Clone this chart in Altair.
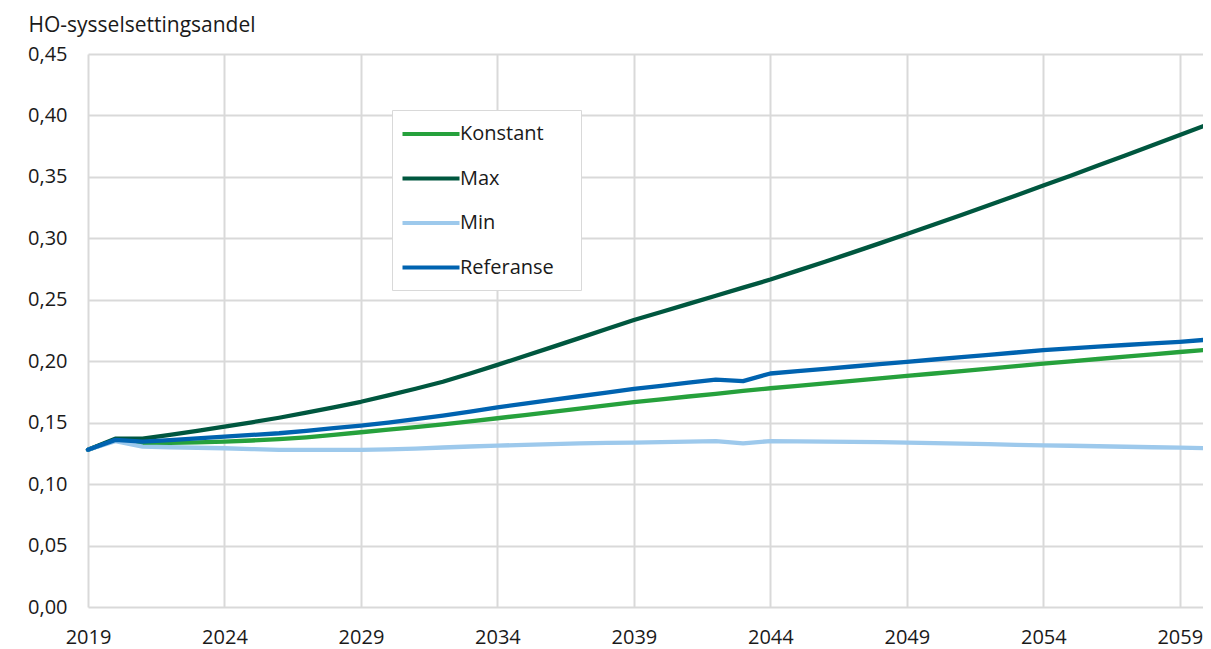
import altair as alt
import pandas as pd

years = list(range(2019, 2061))

konstant = [0.128, 0.136, 0.1330, 0.1335, 0.1340, 0.1346, 0.1355, 0.1366, 0.1381, 0.1400,
            0.1422, 0.1443, 0.1464, 0.1487, 0.1511, 0.1536, 0.1562, 0.1588, 0.1614, 0.1641,
            0.1667, 0.1690, 0.1713, 0.1735, 0.1758, 0.1780, 0.1800, 0.1820, 0.1840, 0.1860,
            0.1880, 0.1900, 0.1920, 0.1940, 0.1960, 0.1980, 0.1999, 0.2018, 0.2037, 0.2056,
            0.2075, 0.2093]

maks = [0.128, 0.137, 0.137, 0.1400, 0.1433, 0.1468, 0.1503, 0.1540, 0.1581, 0.1624,
        0.1670, 0.1722, 0.1776, 0.1833, 0.1900, 0.1970, 0.2043, 0.2115, 0.2188, 0.2262,
        0.2335, 0.2401, 0.2467, 0.2533, 0.2599, 0.2665, 0.2737, 0.2810, 0.2884, 0.2959,
        0.3035, 0.3112, 0.3190, 0.3269, 0.3349, 0.3430, 0.3510, 0.3592, 0.3674, 0.3757,
        0.3840, 0.3925]

minimum = [0.128, 0.135, 0.1305, 0.1300, 0.1296, 0.1292, 0.1285, 0.1279, 0.1278, 0.1278,
           0.1279, 0.1283, 0.1289, 0.1298, 0.1306, 0.1313, 0.1320, 0.1326, 0.1331, 0.1335,
           0.1338, 0.1342, 0.1346, 0.1350, 0.1332, 0.1350, 0.1348, 0.1346, 0.1343, 0.1341,
           0.1338, 0.1334, 0.1330, 0.1325, 0.1320, 0.1316, 0.1312, 0.1308, 0.1304, 0.1300,
           0.1297, 0.1292]

referanse = [0.128, 0.136, 0.1345, 0.1358, 0.1372, 0.1386, 0.1400, 0.1414, 0.1434, 0.1455,
             0.1476, 0.1500, 0.1528, 0.1558, 0.1590, 0.1625, 0.1655, 0.1685, 0.1715, 0.1745,
             0.1775, 0.1800, 0.1825, 0.1850, 0.1838, 0.1900, 0.1920, 0.1938, 0.1957, 0.1976,
             0.1995, 0.2014, 0.2033, 0.2052, 0.2071, 0.2090, 0.2104, 0.2118, 0.2132, 0.2145,
             0.2158, 0.2175]

series_names = ["Konstant", "Max", "Min", "Referanse"]
series_colors = ["#26a13c", "#00573f", "#9dc9ec", "#0063b0"]
x_ticks = [2019, 2024, 2029, 2034, 2039, 2044, 2049, 2054, 2059]
y_ticks = [0.0, 0.05, 0.10, 0.15, 0.20, 0.25, 0.30, 0.35, 0.40, 0.45]

rows = []
for name, vals in zip(series_names, [konstant, maks, minimum, referanse]):
    for yr, v in zip(years, vals):
        rows.append({"år": yr, "verdi": v, "serie": name, "orden": series_names.index(name)})
df = pd.DataFrame(rows)

FONT = "Open Sans"
PAD = "\u2800"

chart = alt.Chart(df).mark_line(strokeWidth=4.3, strokeJoin="round", strokeCap="round").encode(
    x=alt.X("år:Q",
            scale=alt.Scale(domain=[2019, 2059.85], nice=False, zero=False),
            axis=alt.Axis(values=x_ticks, format="d", title=None, grid=True,
                          ticks=False, domain=False, labelPadding=20, labelFlush=False,
                          labelFontSize=20, labelFont=FONT, labelColor="#1a1a1a")),
    y=alt.Y("verdi:Q",
            scale=alt.Scale(domain=[0, 0.45], nice=False),
            axis=alt.Axis(values=y_ticks, title="HO-sysselsettingsandel",
                          labelExpr="replace(format(datum.value, '.2f'), '.', ',')",
                          grid=True, ticks=False, domain=False, labelPadding=21,
                          labelFlush=False,
                          labelFontSize=20, labelFont=FONT, labelColor="#1a1a1a",
                          titleAngle=0, titleX=-60, titleY=-23, titleAlign="left",
                          titleBaseline="alphabetic", titleFontSize=21,
                          titleFont=FONT, titleFontWeight="normal", titleColor="#1a1a1a")),
    color=alt.Color("serie:N",
                    scale=alt.Scale(domain=series_names, range=series_colors),
                    legend=alt.Legend(orient="none", legendX=304, legendY=56, title=None,
                                      symbolType="M-2.85,0H2.85", symbolSize=400,
                                      symbolStrokeWidth=4, symbolOffset=15, labelOffset=17,
                                      labelFontSize=20, labelFont=FONT, labelColor="#1a1a1a",
                                      labelExpr="datum.label + '" + PAD + "'",
                                      padding=12, rowPadding=22.5,
                                      strokeColor="#d9d9d9", fillColor="white")),
    order=alt.Order("orden:Q"),
    detail="serie:N",
).properties(
    width=1115, height=553,
    autosize=alt.AutoSizeParams(type="none"),
    padding={"left": 80, "top": 46, "right": 0, "bottom": 42},
    background="white",
).configure_axis(
    gridColor="#d9d9d9", gridWidth=2,
).configure_view(
    stroke=None,
)

chart.save("out.html", embed_options={"renderer": "svg", "actions": False})
